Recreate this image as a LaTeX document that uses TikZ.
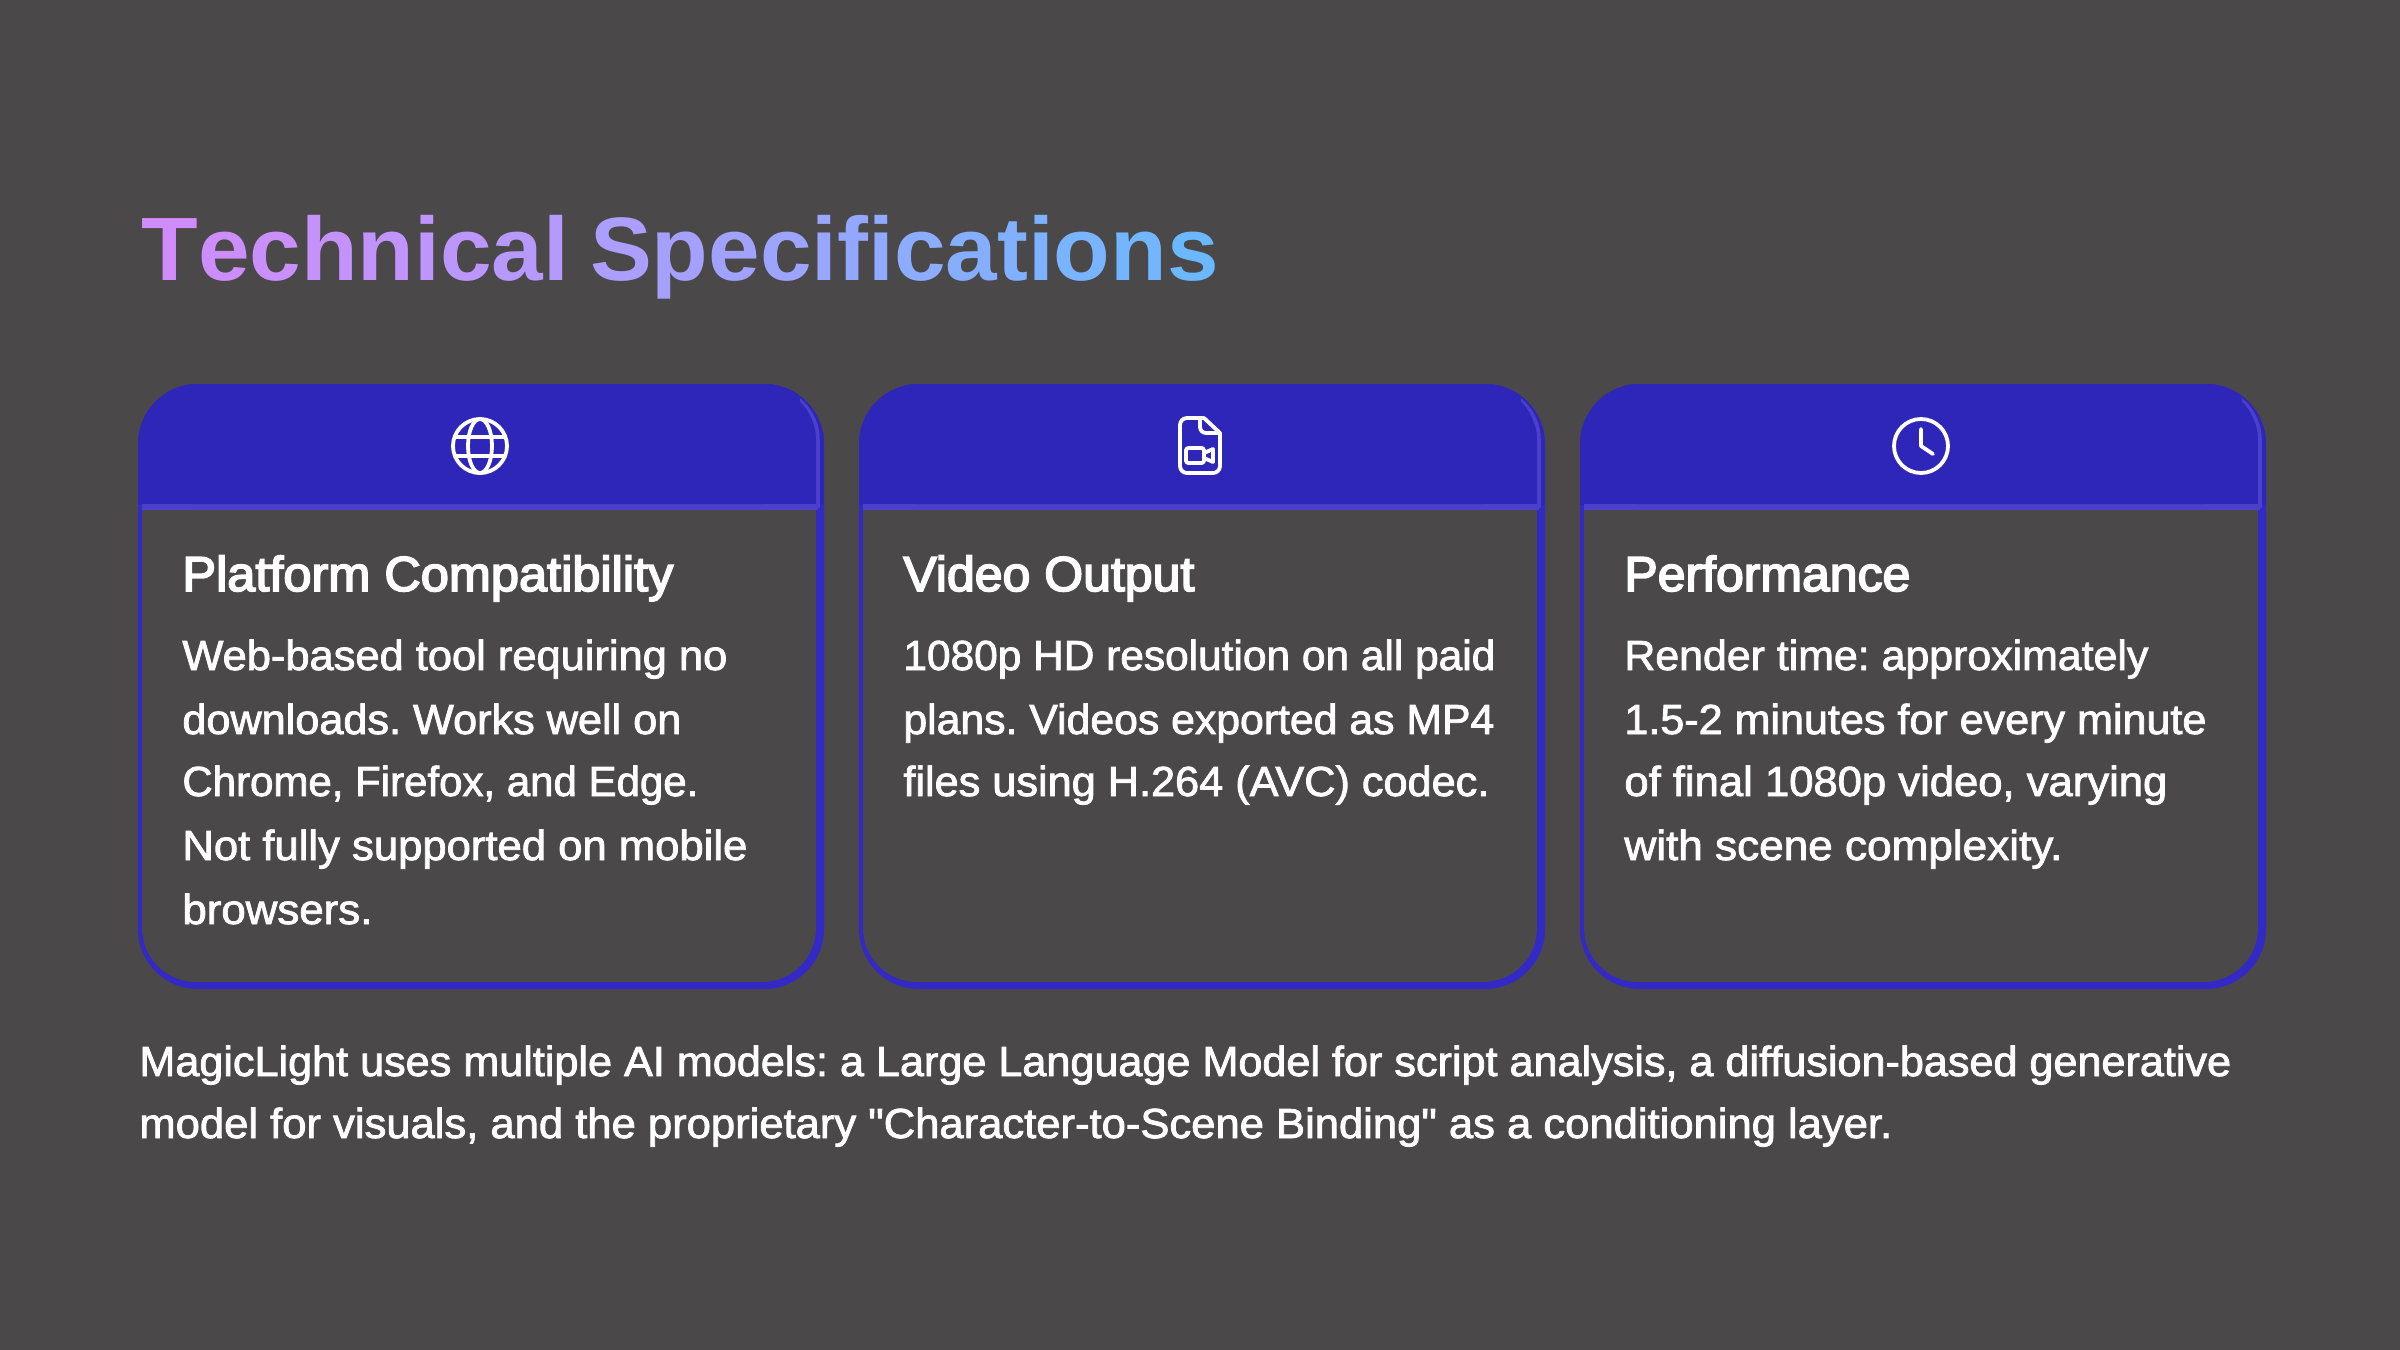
\documentclass[tikz,border=0pt]{standalone}
\usepackage{graphicx}
\usepackage{fontspec}
\setmainfont{Liberation Sans}[FakeBold=1.9,Ligatures=TeXOff]
\newfontfamily\headfont{Liberation Sans}[FakeBold=3.4]
\newfontfamily\titlefont{Liberation Sans Bold}[FakeStretch=1.03]
\definecolor{bgc}{HTML}{4A4849}
\definecolor{hdr}{HTML}{2E26B8}
\definecolor{hdl}{HTML}{4A40CC}
\definecolor{bord}{HTML}{3229C6}
% set a line to a width given in pt (1 reference px = 0.5pt)
\newcommand{\fitline}[2]{\resizebox{#1pt}{\height}{#2}}
\tikzset{
 x=0.5pt,y=-0.5pt,
 body/.style={anchor=base west,inner sep=0pt,text=white,font=\fontsize{21}{21}\selectfont},
 cardhead/.style={anchor=base west,inner sep=0pt,text=white,font=\headfont\fontsize{24.5}{24.5}\selectfont},
 icon/.style={draw=white,line width=1.9pt,line cap=round,line join=round},
}
\begin{document}
\frenchspacing
\begin{tikzpicture}
\useasboundingbox (0,0) rectangle (2400,1350);
\fill[bgc] (0,0) rectangle (2400,1350);
\node[anchor=base west,inner sep=0pt,font=\titlefont\fontsize{45}{45}\selectfont] (title) at (141,280) {\color[HTML]{D08CFA}T\color[HTML]{CC8EFA}e\color[HTML]{C98FFB}c\color[HTML]{C591FB}h\color[HTML]{C193FB}n\color[HTML]{BE95FC}i\color[HTML]{BB97FC}c\color[HTML]{B799FC}a\color[HTML]{B49AFC}l \hspace{-2.3pt}\color[HTML]{AB9EFD}S\color[HTML]{A6A0FD}p\color[HTML]{A1A2FD}e\color[HTML]{9CA4FE}c\color[HTML]{98A6FE}i\color[HTML]{94A7FE}f\color[HTML]{8FAAFE}i\color[HTML]{8CACFE}c\color[HTML]{86AEFE}a\color[HTML]{81B0FE}t\color[HTML]{7CB2FF}i\color[HTML]{78B4FF}o\color[HTML]{72B6FF}n\color[HTML]{6CB8FF}s};
\foreach \cx in {138,859,1580}{
  \pgfmathsetmacro{\xl}{\cx}
  \pgfmathsetmacro{\xr}{\cx+686}
  \pgfmathsetmacro{\il}{\cx+4}
  \pgfmathsetmacro{\ir}{\cx+678}
  \pgfmathsetmacro{\lr}{\cx+680}
  \fill[bord,rounded corners=30pt] (\xl,384) rectangle (\xr,989);
  \fill[bgc,rounded corners=27pt] (\il,440) rectangle (\ir,982);
  \begin{scope}
    \clip[rounded corners=30pt] (\xl,384) rectangle (\xr,989);
    \fill[hdr] (\xl,384) rectangle (\xr,505);
    \fill[hdl] (\il,504) rectangle (\lr,510);
    \draw[hdl,line width=1.8pt,rounded corners=26pt] (\lr,508) -- (\lr,388) -- (\lr-80,388);
    \fill[hdr,rounded corners=26pt] (\xl+4,386) rectangle (\ir-1,504);
    \fill[hdr] (\xl,384) rectangle (\xr-24,408);
  \end{scope}
}
\node[cardhead] (h1) at (182,591) {\fitline{245.5}{Platform Compatibility}};
\node[cardhead] (h2) at (903,591) {\fitline{145.5}{Video Output}};
\node[cardhead] (h3) at (1624,591) {\fitline{143}{Performance}};
\node[body] (a1) at (182,670) {\fitline{272.5}{Web-based tool requiring no}};
\node[body] (a2) at (182,734) {\fitline{249.5}{downloads. Works well on}};
\node[body] (a3) at (182,796) {\fitline{258}{Chrome, Firefox, and Edge.}};
\node[body] (a4) at (182,860) {\fitline{282.5}{Not fully supported on mobile}};
\node[body] (a5) at (182,924) {\fitline{95}{browsers.}};
\node[body] (b1) at (903,670) {\fitline{296}{1080p HD resolution on all paid}};
\node[body] (b2) at (903,734) {\fitline{295.5}{plans. Videos exported as MP4}};
\node[body] (b3) at (903,796) {\fitline{293}{files using H.264 (AVC) codec.}};
\node[body] (c1) at (1624,670) {\fitline{262}{Render time: approximately}};
\node[body] (c2) at (1624,734) {\fitline{291}{1.5-2 minutes for every minute}};
\node[body] (c3) at (1624,796) {\fitline{271.5}{of final 1080p video, varying}};
\node[body] (c4) at (1624,860) {\fitline{219}{with scene complexity.}};
\node[body] (n1) at (139,1076) {\fitline{1046}{MagicLight uses multiple AI models: a Large Language Model for script analysis, a diffusion-based generative}};
\node[body] (n2) at (139,1138) {\fitline{876.5}{model for visuals, and the proprietary "Character-to-Scene Binding" as a conditioning layer.}};
% globe
\begin{scope}[shift={(480,446)}]
 \draw[icon] (0,0) circle[radius=27];
 \draw[icon] (0,0) ellipse[x radius=12,y radius=27];
 \draw[icon] (-25,-9) -- (25,-9) (-25,10) -- (25,10);
\end{scope}
% file video
\begin{scope}[shift={(1200,446)}]
 \draw[icon,rounded corners=3.5pt] (4,-28) -- (-20,-28) -- (-20,27) -- (20,27) -- (20,-13);
 \draw[icon] (20,-13) -- (4,-28);
 \draw[icon] (0,-28) -- (0,-19) arc[start angle=180,end angle=90,radius=6] -- (20,-13);
 \draw[icon,rounded corners=1.2pt] (-14,2) rectangle (4,17);
 \draw[icon] (4,7) -- (13,3) -- (13,16) -- (4,12);
\end{scope}
% clock
\begin{scope}[shift={(1921,446)}]
 \draw[icon] (0,0) circle[radius=27];
 \draw[icon] (0,-17) -- (0,0) -- (12,8);
\end{scope}
\end{tikzpicture}
\end{document}
